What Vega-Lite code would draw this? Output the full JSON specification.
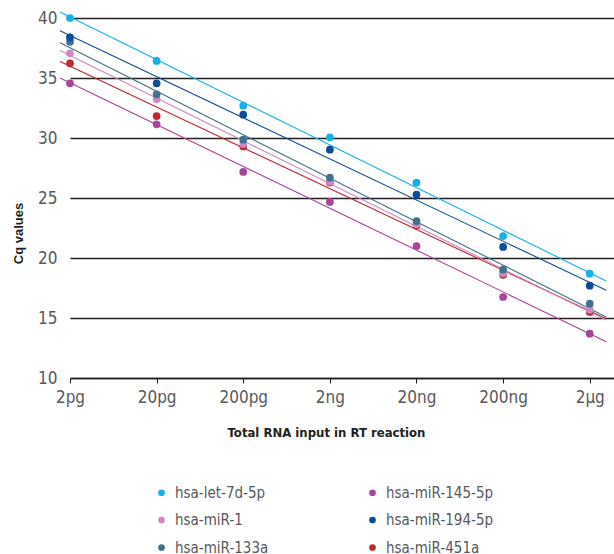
{
  "$schema": "https://vega.github.io/schema/vega-lite/v6.json",
  "width": 544,
  "height": 360,
  "autosize": {"type": "none"},
  "padding": {"left": 70, "top": 18, "right": 0, "bottom": 176},
  "background": "white",
  "config": {
    "view": {"stroke": null},
    "font": "DejaVu Sans Condensed, Roboto, sans-serif"
  },
  "data": {
    "values": [
      {"x": 0, "series": "hsa-let-7d-5p", "cq": 40.0},
      {"x": 1, "series": "hsa-let-7d-5p", "cq": 36.42},
      {"x": 2, "series": "hsa-let-7d-5p", "cq": 32.69},
      {"x": 3, "series": "hsa-let-7d-5p", "cq": 30.06},
      {"x": 4, "series": "hsa-let-7d-5p", "cq": 26.28},
      {"x": 5, "series": "hsa-let-7d-5p", "cq": 21.83},
      {"x": 6, "series": "hsa-let-7d-5p", "cq": 18.69},
      {"x": 0, "series": "hsa-miR-451a", "cq": 36.22},
      {"x": 1, "series": "hsa-miR-451a", "cq": 31.83},
      {"x": 2, "series": "hsa-miR-451a", "cq": 29.3},
      {"x": 3, "series": "hsa-miR-451a", "cq": 26.3},
      {"x": 4, "series": "hsa-miR-451a", "cq": 22.7},
      {"x": 5, "series": "hsa-miR-451a", "cq": 18.6},
      {"x": 6, "series": "hsa-miR-451a", "cq": 15.5},
      {"x": 0, "series": "hsa-miR-1", "cq": 37.06},
      {"x": 1, "series": "hsa-miR-1", "cq": 33.22},
      {"x": 2, "series": "hsa-miR-1", "cq": 29.5},
      {"x": 3, "series": "hsa-miR-1", "cq": 26.36},
      {"x": 4, "series": "hsa-miR-1", "cq": 22.81},
      {"x": 5, "series": "hsa-miR-1", "cq": 18.72},
      {"x": 6, "series": "hsa-miR-1", "cq": 15.69},
      {"x": 0, "series": "hsa-miR-145-5p", "cq": 34.56},
      {"x": 1, "series": "hsa-miR-145-5p", "cq": 31.14},
      {"x": 2, "series": "hsa-miR-145-5p", "cq": 27.17},
      {"x": 3, "series": "hsa-miR-145-5p", "cq": 24.67},
      {"x": 4, "series": "hsa-miR-145-5p", "cq": 21.0},
      {"x": 5, "series": "hsa-miR-145-5p", "cq": 16.75},
      {"x": 6, "series": "hsa-miR-145-5p", "cq": 13.69},
      {"x": 0, "series": "hsa-miR-133a", "cq": 38.03},
      {"x": 1, "series": "hsa-miR-133a", "cq": 33.64},
      {"x": 2, "series": "hsa-miR-133a", "cq": 29.86},
      {"x": 3, "series": "hsa-miR-133a", "cq": 26.69},
      {"x": 4, "series": "hsa-miR-133a", "cq": 23.08},
      {"x": 5, "series": "hsa-miR-133a", "cq": 19.03},
      {"x": 6, "series": "hsa-miR-133a", "cq": 16.19},
      {"x": 0, "series": "hsa-miR-194-5p", "cq": 38.39},
      {"x": 1, "series": "hsa-miR-194-5p", "cq": 34.56},
      {"x": 2, "series": "hsa-miR-194-5p", "cq": 31.94},
      {"x": 3, "series": "hsa-miR-194-5p", "cq": 29.03},
      {"x": 4, "series": "hsa-miR-194-5p", "cq": 25.28},
      {"x": 5, "series": "hsa-miR-194-5p", "cq": 20.92},
      {"x": 6, "series": "hsa-miR-194-5p", "cq": 17.69}
    ]
  },
  "resolve": {"legend": {"color": "independent"}},
  "layer": [
    {
      "mark": {"type": "line", "clip": false, "strokeWidth": 1.1},
      "transform": [
        {"regression": "cq", "on": "x", "groupby": ["series"], "extent": [-0.115, 6.19]}
      ],
      "encoding": {
        "x": {"field": "x", "type": "quantitative"},
        "y": {"field": "cq", "type": "quantitative"},
        "color": {"field": "series", "type": "nominal", "legend": null}
      }
    },
    {
      "mark": {"type": "circle", "size": 60, "opacity": 1},
      "encoding": {
        "x": {
          "field": "x",
          "type": "quantitative",
          "scale": {"domain": [0, 6.28], "nice": false, "zero": false},
          "axis": {
            "values": [0, 1, 2, 3, 4, 5, 6],
            "labelExpr": "['2pg','20pg','200pg','2ng','20ng','200ng','2µg'][datum.value]",
            "grid": false,
            "domainColor": "#231F20",
            "domainWidth": 1.5,
            "tickColor": "#231F20",
            "tickWidth": 1,
            "tickSize": 5,
            "labelFontSize": 17,
            "labelColor": "#58595B",
            "labelPadding": 6,
            "labelFlush": false,
            "title": "Total RNA input in RT reaction",
            "titleFont": "DejaVu Sans Condensed, Roboto, sans-serif",
            "titleFontSize": 13,
            "titleFontWeight": "bold",
            "titleColor": "#231F20",
            "titleX": 256,
            "titleY": 54,
            "titleBaseline": "middle",
            "titleAlign": "center"
          }
        },
        "y": {
          "field": "cq",
          "type": "quantitative",
          "scale": {"domain": [10, 40], "nice": false, "zero": false},
          "axis": {
            "values": [10, 15, 20, 25, 30, 35, 40],
            "domain": false,
            "ticks": false,
            "grid": true,
            "gridColor": "#231F20",
            "gridWidth": 1.5,
            "labelFontSize": 17,
            "labelColor": "#58595B",
            "labelPadding": 13,
            "title": "Cq values",
            "titleFont": "Liberation Sans, sans-serif",
            "titleFontSize": 13,
            "titleFontWeight": "bold",
            "titleColor": "#231F20",
            "titleX": -52,
            "titleY": 215,
            "titleAngle": -90,
            "titleBaseline": "middle",
            "titleAlign": "center"
          }
        },
        "color": {
          "field": "series",
          "type": "nominal",
          "scale": {
            "domain": ["hsa-let-7d-5p", "hsa-miR-1", "hsa-miR-133a", "hsa-miR-145-5p", "hsa-miR-194-5p", "hsa-miR-451a"],
            "range": ["#14B1EA", "#CF88C2", "#42708D", "#A8449A", "#0D4C96", "#C1272D"]
          },
          "legend": {
            "orient": "none",
            "legendX": 84,
            "legendY": 467,
            "columns": 2,
            "title": null,
            "symbolType": "circle",
            "symbolSize": 45,
            "symbolOpacity": 1,
            "labelFontSize": 15,
            "labelColor": "#58595B",
            "labelOffset": 6,
            "rowPadding": 11.5,
            "columnPadding": 96,
            "labelLimit": 200
          }
        }
      }
    }
  ]
}
